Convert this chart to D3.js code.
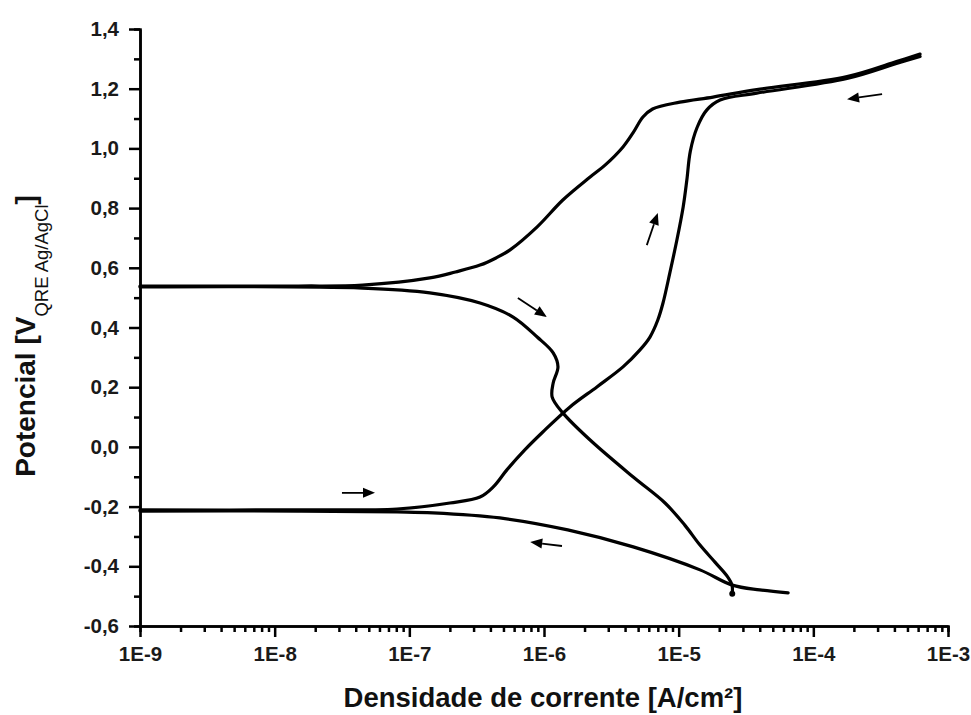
<head>
	<script type="text/javascript" src="https://cdn.jsdelivr.net/npm/d3@7/dist/d3.min.js"></script>
	<style>
		body { margin: 0; background: #fff; }
		text { font-family: "Liberation Sans", Arial, sans-serif; fill: #111; }
	</style>
</head>
<body>
	<svg width="971" height="715"></svg>
</body>
<script type="text/javascript">

	// forward scan, cathodic part (starts at the right, runs to Ecorr)
	var cathI = [6.5e-5, 4.0e-5, 2.5e-5, 1.44e-5, 4.6e-6, 1.5e-6, 4.7e-7, 1.5e-7, 8.1e-8, 1.5e-8, 1e-9]
	var cathE = [-0.489, -0.479, -0.463, -0.412, -0.335, -0.278, -0.238, -0.221, -0.218, -0.215, -0.215]

	// forward scan, anodic part
	var anodI = [1e-9, 1.5e-8, 8.1e-8, 2.0e-7, 3.35e-7, 4.2e-7, 5.3e-7, 7.2e-7, 9.8e-7, 1.56e-6, 2.47e-6, 3.86e-6, 5.16e-6, 6.12e-6, 7.0e-6, 7.65e-6, 8.6e-6, 9.7e-6, 1.08e-5, 1.15e-5, 1.22e-5, 1.37e-5, 1.62e-5, 2.03e-5, 3.8e-5, 1.78e-4, 4.2e-4, 6.2e-4]
	var anodE = [-0.211, -0.211, -0.208, -0.188, -0.168, -0.134, -0.077, -0.010, 0.050, 0.134, 0.201, 0.268, 0.325, 0.368, 0.425, 0.482, 0.583, 0.693, 0.804, 0.894, 0.990, 1.070, 1.129, 1.162, 1.185, 1.234, 1.285, 1.308]

	// reverse scan, anodic part
	var revI = [6.2e-4, 4.2e-4, 1.78e-4, 3.8e-5, 1.8e-5, 1.02e-5, 6.4e-6, 5.43e-6, 4.58e-6, 3.86e-6, 2.84e-6, 2.2e-6, 1.38e-6, 8.9e-7, 5.6e-7, 4.4e-7, 3.35e-7, 2.2e-7, 1.42e-7, 4.5e-8, 1.5e-8, 1e-9]
	var revE = [1.316, 1.292, 1.241, 1.197, 1.172, 1.155, 1.132, 1.105, 1.052, 1.005, 0.944, 0.904, 0.827, 0.737, 0.660, 0.633, 0.609, 0.586, 0.566, 0.542, 0.539, 0.539]

	// reverse scan, cathodic part
	var revCathI = [1e-9, 4.5e-8, 1.42e-7, 3.35e-7, 5.9e-7, 8.9e-7, 1.17e-6, 1.27e-6, 1.17e-6, 1.15e-6, 1.38e-6, 2.2e-6, 4.6e-6, 7.92e-6, 1.11e-5, 1.44e-5, 1.86e-5, 2.29e-5, 2.49e-5, 2.5e-5]
	var revCathE = [0.536, 0.532, 0.516, 0.482, 0.435, 0.368, 0.315, 0.268, 0.214, 0.167, 0.114, 0.023, -0.101, -0.188, -0.262, -0.329, -0.386, -0.433, -0.463, -0.489]

	// scan direction arrows [current, potential]
	var arrowFrom = [[3.16e-8, -0.154], [1.36e-6, -0.332], [6.4e-7, 0.499], [5.8e-6, 0.676], [3.24e-4, 1.182]]
	var arrowTo = [[5.56e-8, -0.154], [7.9e-7, -0.319], [1.05e-6, 0.435], [7.0e-6, 0.784], [1.78e-4, 1.165]]

	var xTickValues = [1e-9, 1e-8, 1e-7, 1e-6, 1e-5, 1e-4, 1e-3]
	var xTickLabels = ['1E-9', '1E-8', '1E-7', '1E-6', '1E-5', '1E-4', '1E-3']
	var yTickValues = [-0.6, -0.4, -0.2, 0.0, 0.2, 0.4, 0.6, 0.8, 1.0, 1.2, 1.4]
	var yTickLabels = ['-0,6', '-0,4', '-0,2', '0,0', '0,2', '0,4', '0,6', '0,8', '1,0', '1,2', '1,4']

	var svgWidth = 971, svgHeight = 715
	var plot = {left: 140, right: 948, top: 29, bottom: 626}

	var svg = d3.select('svg')

	var x = d3.scaleLog().domain([1e-9, 1e-3]).range([plot.left, plot.right])
	var y = d3.scaleLinear().domain([-0.6, 1.4]).range([plot.bottom, plot.top])

	// minor ticks
	var xMinor = []
	xTickValues.slice(0, -1).forEach(function(d){
		for (var k = 2; k <= 9; k++) xMinor.push(d * k)
	})
	var yMinor = yTickValues.slice(0, -1).map(function(d){ return d + 0.1 })

	var gx = svg.append('g').attr('transform', 'translate(0,' + plot.bottom + ')')
	gx.append('g').call(d3.axisBottom(x).tickValues(xMinor).tickSize(6).tickFormat(''))
	gx.append('g').call(d3.axisBottom(x).tickValues(xTickValues).tickSize(11).tickSizeOuter(0).tickPadding(9)
		.tickFormat(function(d, i){ return xTickLabels[i] }))

	var gy = svg.append('g').attr('transform', 'translate(' + plot.left + ',0)')
	gy.append('g').call(d3.axisLeft(y).tickValues(yMinor).tickSize(6).tickFormat(''))
	gy.append('g').call(d3.axisLeft(y).tickValues(yTickValues).tickSize(11).tickSizeOuter(0).tickPadding(10)
		.tickFormat(function(d, i){ return yTickLabels[i] }))

	svg.selectAll('.domain, .tick line')
	   .style('stroke', '#000')
	   .style('stroke-width', 2.5)
	svg.selectAll('.tick text')
	   .style('font-size', '20.5px')
	   .style('font-weight', 'bold')
	   .style('font-family', '"Liberation Sans", Arial, sans-serif')
	   .style('fill', '#1a1a1a')

	// curve
	var line = d3.line()
	   .x(function(d){ return x(d[0]) })
	   .y(function(d){ return y(d[1]) })
	   .curve(d3.curveCatmullRom.alpha(0.5))

	var branches = [[cathI, cathE], [anodI, anodE], [revI, revE], [revCathI, revCathE]]
	svg.selectAll('path.branch')
	   .data(branches)
	   .enter()
	   .append('path')
	   .attr('class', 'branch')
	   .attr('d', function(b){ return line(d3.zip(b[0], b[1])) })
	   .style('fill', 'none')
	   .style('stroke', '#000')
	   .style('stroke-width', 3.2)
	   .style('stroke-linejoin', 'round')
	   .style('stroke-linecap', 'round')

	// small blob at the scan end
	svg.append('circle')
	   .attr('cx', x(revCathI[revCathI.length - 1]))
	   .attr('cy', y(revCathE[revCathE.length - 1]) + 1)
	   .attr('r', 3)
	   .style('fill', '#000')

	// arrows
	var headLen = 12, headHalf = 5
	arrowFrom.forEach(function(a, i){
		var x0 = x(a[0]), y0 = y(a[1])
		var x1 = x(arrowTo[i][0]), y1 = y(arrowTo[i][1])
		var ang = Math.atan2(y1 - y0, x1 - x0)
		var bx = x1 - headLen * Math.cos(ang), by = y1 - headLen * Math.sin(ang)
		svg.append('line')
		   .attr('x1', x0).attr('y1', y0)
		   .attr('x2', bx).attr('y2', by)
		   .style('stroke', '#000')
		   .style('stroke-width', 1.8)
		svg.append('path')
		   .attr('d', 'M' + x1 + ',' + y1 +
		              'L' + (bx + headHalf * Math.sin(ang)) + ',' + (by - headHalf * Math.cos(ang)) +
		              'L' + (bx - headHalf * Math.sin(ang)) + ',' + (by + headHalf * Math.cos(ang)) + 'Z')
		   .style('fill', '#000')
	})

	// axis titles
	svg.append('text')
	   .attr('x', (plot.left + plot.right) / 2 - 1)
	   .attr('y', 707)
	   .style('text-anchor', 'middle')
	   .style('font-size', '27.5px')
	   .style('font-weight', 'bold')
	   .text('Densidade de corrente [A/cm²]')

	var ylab = svg.append('text')
	   .attr('transform', 'translate(35,336) rotate(-90)')
	   .style('text-anchor', 'middle')
	   .style('font-size', '28px')
	   .style('font-weight', 'bold')
	ylab.append('tspan').text('Potencial [V')
	ylab.append('tspan').attr('dy', 13).style('font-size', '18.5px').style('font-weight', 'normal').text('QRE Ag/AgCl')
	ylab.append('tspan').attr('dy', -13).text(']')

</script>
